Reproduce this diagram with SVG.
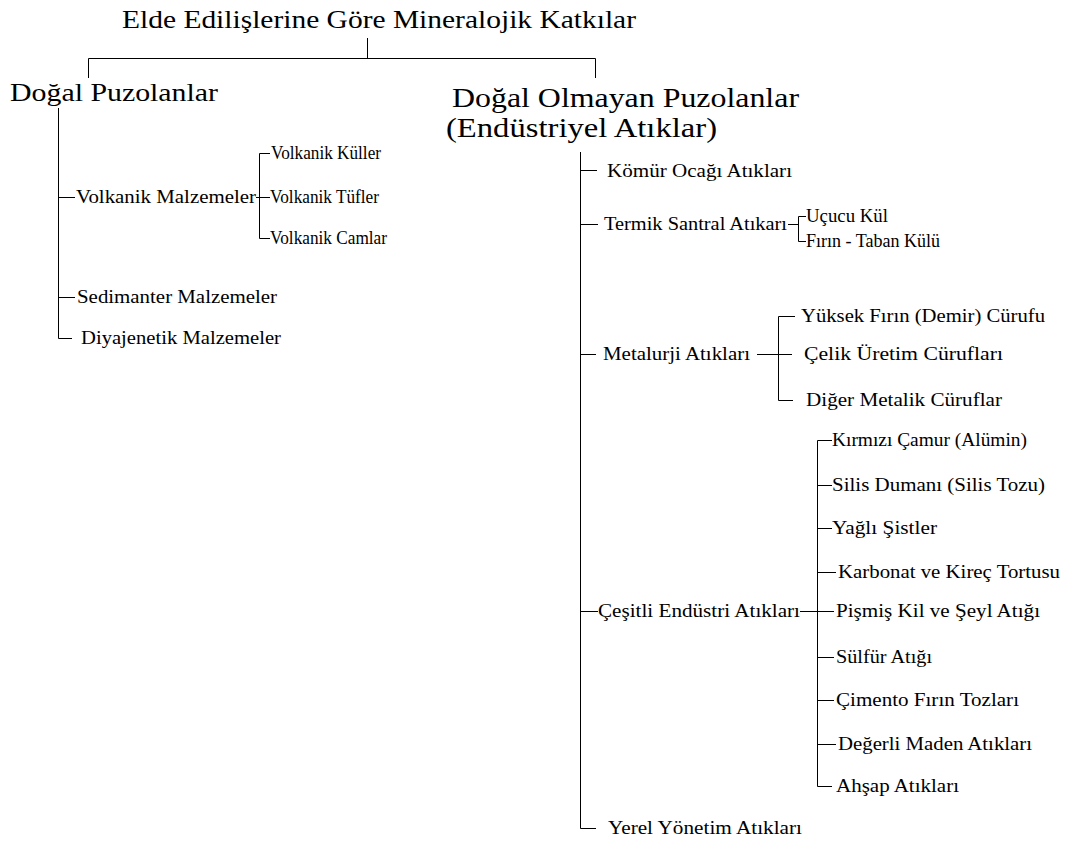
<svg xmlns="http://www.w3.org/2000/svg" width="1065" height="851" viewBox="0 0 1065 851">
<style>
text{font-family:"Liberation Serif","Times New Roman",serif;fill:#000}
.h{font-size:26px}
.i{font-size:18.5px}
.c{fill:none;stroke:#000;stroke-width:1}
</style>
<rect width="1065" height="851" fill="#fff"/>
<g id="connectors">
<path class="c" d="M367.5 38V58.5M88.5 78V58.5H595.5V78"/>
<path class="c" d="M58.5 108V338.5H72M58 197.5H75M58 297.5H75"/>
<path class="c" d="M256 197.5H270M270 153.5H259.5V238.5H270"/>
<path class="c" d="M580.5 152V828.5H596M580 170.5H597M580 224.5H598M580 354.5H596M580 611.5H598"/>
<path class="c" d="M788 224.5H798.5M806 216.5H798.5V241.5H806"/>
<path class="c" d="M757 354.5H792M795 316.5H778.5V400.5H793"/>
<path class="c" d="M800 611.5H817M832 440.5H817.5V786.5H832M817 485.5H832M817 528.5H832M817 572.5H836M817 611.5H834M817 657.5H834M817 700.5H834M817 744.5H836"/>
</g>
<g id="root"><text class="h" x="122" y="28" textLength="514" lengthAdjust="spacingAndGlyphs">Elde Edilişlerine Göre Mineralojik Katkılar</text></g>
<g id="dogal"><text class="h" x="10" y="101" textLength="208" lengthAdjust="spacingAndGlyphs">Doğal Puzolanlar</text></g>
<g id="dogal-olmayan"><text class="h" style="font-size:27px" x="452" y="107" textLength="347" lengthAdjust="spacingAndGlyphs">Doğal Olmayan Puzolanlar</text><text class="h" style="font-size:27px" x="446" y="137" textLength="271" lengthAdjust="spacingAndGlyphs">(Endüstriyel Atıklar)</text></g>
<g id="volkanik-malzemeler"><text class="i" x="76" y="203" textLength="180" lengthAdjust="spacingAndGlyphs">Volkanik Malzemeler</text></g>
<g id="volkanik-kuller"><text class="i" x="271" y="159" textLength="110" lengthAdjust="spacingAndGlyphs">Volkanik Küller</text></g>
<g id="volkanik-tufler"><text class="i" x="270" y="203" textLength="109" lengthAdjust="spacingAndGlyphs">Volkanik Tüfler</text></g>
<g id="volkanik-camlar"><text class="i" x="270" y="244" textLength="117" lengthAdjust="spacingAndGlyphs">Volkanik Camlar</text></g>
<g id="sedimanter"><text class="i" x="77" y="303" textLength="200" lengthAdjust="spacingAndGlyphs">Sedimanter Malzemeler</text></g>
<g id="diyajenetik"><text class="i" x="81" y="344" textLength="200" lengthAdjust="spacingAndGlyphs">Diyajenetik Malzemeler</text></g>
<g id="komur"><text class="i" x="607" y="177" textLength="185" lengthAdjust="spacingAndGlyphs">Kömür Ocağı Atıkları</text></g>
<g id="termik"><text class="i" x="604" y="230" textLength="183" lengthAdjust="spacingAndGlyphs">Termik Santral Atıkarı</text></g>
<g id="ucucu"><text class="i" x="806" y="222" textLength="82" lengthAdjust="spacingAndGlyphs">Uçucu Kül</text></g>
<g id="firin-taban"><text class="i" x="806" y="247" textLength="134" lengthAdjust="spacingAndGlyphs">Fırın - Taban Külü</text></g>
<g id="metalurji"><text class="i" x="603" y="360" textLength="147" lengthAdjust="spacingAndGlyphs">Metalurji Atıkları</text></g>
<g id="yuksek-firin"><text class="i" x="801" y="322" textLength="244" lengthAdjust="spacingAndGlyphs">Yüksek Fırın (Demir) Cürufu</text></g>
<g id="celik"><text class="i" x="804" y="360" textLength="199" lengthAdjust="spacingAndGlyphs">Çelik Üretim Cürufları</text></g>
<g id="diger-metalik"><text class="i" x="806" y="406" textLength="196" lengthAdjust="spacingAndGlyphs">Diğer Metalik Cüruflar</text></g>
<g id="cesitli"><text class="i" x="598" y="617" textLength="202" lengthAdjust="spacingAndGlyphs">Çeşitli Endüstri Atıkları</text></g>
<g id="kirmizi"><text class="i" x="832" y="446" textLength="195" lengthAdjust="spacingAndGlyphs">Kırmızı Çamur (Alümin)</text></g>
<g id="silis"><text class="i" x="832" y="491" textLength="213" lengthAdjust="spacingAndGlyphs">Silis Dumanı (Silis Tozu)</text></g>
<g id="yagli"><text class="i" x="832" y="534" textLength="105" lengthAdjust="spacingAndGlyphs">Yağlı Şistler</text></g>
<g id="karbonat"><text class="i" x="838" y="578" textLength="222" lengthAdjust="spacingAndGlyphs">Karbonat ve Kireç Tortusu</text></g>
<g id="pismis"><text class="i" x="836" y="617" textLength="204" lengthAdjust="spacingAndGlyphs">Pişmiş Kil ve Şeyl Atığı</text></g>
<g id="sulfur"><text class="i" x="836" y="663" textLength="96" lengthAdjust="spacingAndGlyphs">Sülfür Atığı</text></g>
<g id="cimento"><text class="i" x="836" y="706" textLength="183" lengthAdjust="spacingAndGlyphs">Çimento Fırın Tozları</text></g>
<g id="degerli"><text class="i" x="838" y="750" textLength="194" lengthAdjust="spacingAndGlyphs">Değerli Maden Atıkları</text></g>
<g id="ahsap"><text class="i" x="836" y="792" textLength="123" lengthAdjust="spacingAndGlyphs">Ahşap Atıkları</text></g>
<g id="yerel"><text class="i" x="608" y="834" textLength="194" lengthAdjust="spacingAndGlyphs">Yerel Yönetim Atıkları</text></g>
</svg>
